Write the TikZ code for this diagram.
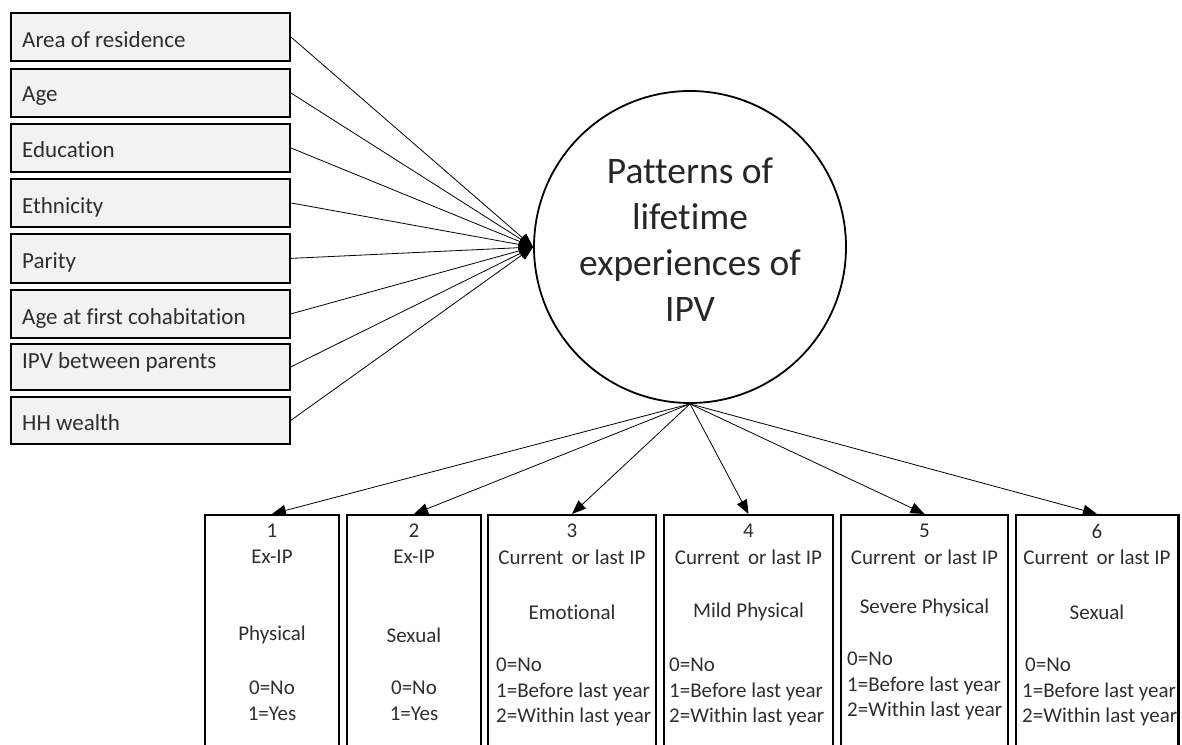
\documentclass[tikz,border=0pt]{standalone}
\usepackage{fontspec}
\setmainfont{Carlito}[Ligatures=NoCommon]
\usetikzlibrary{arrows.meta}
\begin{document}
\begin{tikzpicture}[x=1pt,y=-1pt,
  lbox/.style={draw=black, line width=1.8pt, fill=black!5, minimum width=279pt, anchor=north west, inner sep=0pt},
  ltext/.style={anchor=west, text=black!82, font=\fontsize{23}{27}\selectfont, inner sep=0pt},
  bbox/.style={draw=black, line width=1.8pt, anchor=north, minimum height=250pt, inner sep=0pt},
  btext/.style={text=black!82, font=\fontsize{21}{25.5}\selectfont, inner sep=0pt},
  ctext/.style={text=black!85, font=\fontsize{37.5}{46}\selectfont, align=center, inner sep=0pt},
  arr/.style={line width=0.8pt, -{Triangle[length=14pt,width=11pt]}}
]
\useasboundingbox (0,0) rectangle (1182,744);
\clip (0,0) rectangle (1182,744);

% left boxes
\node[lbox, minimum height=48pt] (l1) at (10,12) {};
\node[lbox, minimum height=48pt] (l2) at (10,68) {};
\node[lbox, minimum height=48pt] (l3) at (10,123) {};
\node[lbox, minimum height=48pt] (l4) at (10,178) {};
\node[lbox, minimum height=49pt] (l5) at (10,233) {};
\node[lbox, minimum height=48pt] (l6) at (10,289) {};
\node[lbox, minimum height=46pt] (l7) at (10,343) {};
\node[lbox, minimum height=47pt] (l8) at (10,396) {};

\node[ltext] (t1) at (22,40) {Area of residence};
\node[ltext] (t2) at (22,96) {Age};
\node[ltext] (t3) at (22,150) {Education};
\node[ltext] (t4) at (22,207) {Ethnicity};
\node[ltext] (t5) at (22,262) {Parity};
\node[ltext] (t6) at (22,318) {Age at first cohabitation};
\node[ltext] (t7) at (22,362) {IPV between parents};
\node[ltext] (t8) at (22,423) {HH wealth};

% circle
\node[circle, draw=black, line width=1.8pt, minimum size=312pt, inner sep=0pt] (ipv) at (690,247) {};
\node[ctext] (ipvtext) at (690,240) {Patterns of\\lifetime\\experiences of\\IPV};

\foreach \i in {1,...,8} { \draw[arr] (l\i.east) -- (ipv.west); }

% bottom boxes
\node[bbox, minimum width=134pt] (b1) at (272,514) {};
\node[bbox, minimum width=134pt] (b2) at (414,514) {};
\node[bbox, minimum width=168pt] (b3) at (572,514) {};
\node[bbox, minimum width=169pt] (b4) at (748.5,514) {};
\node[bbox, minimum width=167pt] (b5) at (924.5,514) {};
\node[bbox, minimum width=162pt] (b6) at (1097,514) {};

\foreach \i in {1,...,6} { \draw[arr] (ipv.south) -- (b\i.north); }

% box texts
\node[btext] (n1) at (272,531) {1};
\node[btext] (h1) at (272,557) {Ex-IP};
\node[btext] (m1) at (272,635) {Physical};
\node[btext, align=center] (v1) at (272,701) {0=No\\1=Yes};

\node[btext] (n2) at (414,531) {2};
\node[btext] (h2) at (414,557) {Ex-IP};
\node[btext] (m2) at (414,635) {Sexual};
\node[btext, align=center] (v2) at (414,701) {0=No\\1=Yes};

\node[btext] (n3) at (572,531) {3};
\node[btext] (h3) at (572,557) {Current\, or last IP};
\node[btext] (m3) at (572,612) {Emotional};
\node[btext, align=left, anchor=west] (v3) at (496,692) {0=No\\1=Before last year\\2=Within last year};

\node[btext] (n4) at (748.5,531) {4};
\node[btext] (h4) at (748.5,557) {Current\, or last IP};
\node[btext] (m4) at (748.5,612) {Mild Physical};
\node[btext, align=left, anchor=west] (v4) at (669,692) {0=No\\1=Before last year\\2=Within last year};

\node[btext] (n5) at (924.5,531) {5};
\node[btext] (h5) at (924.5,557) {Current\, or last IP};
\node[btext] (m5) at (924.5,608) {Severe Physical};
\node[btext, align=left, anchor=west] (v5) at (847,686) {0=No\\1=Before last year\\2=Within last year};

\node[btext] (n6) at (1097,531) {6};
\node[btext] (h6) at (1097,557) {Current\, or last IP};
\node[btext] (m6) at (1097,612) {Sexual};
\begin{scope}
\clip (1016,500) rectangle (1177,744);
\node[btext, align=left, anchor=west] (v6) at (1022,692) {\hspace{3pt}0=No\\1=Before last year\\2=Within last year};
\end{scope}
\draw[line width=1.8pt] (b6.north east) -- ++(0,240);
\end{tikzpicture}
\end{document}
